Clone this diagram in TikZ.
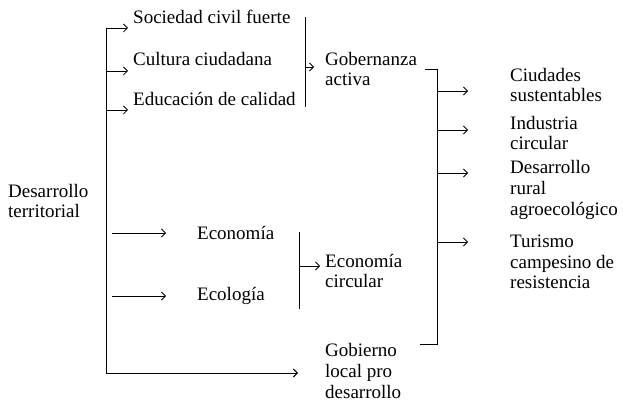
\documentclass[tikz,border=0pt]{standalone}
\usepackage{fontspec}
\setmainfont{Liberation Serif}
\usetikzlibrary{positioning}
\usetikzlibrary{arrows.meta}

\begin{document}
\begin{tikzpicture}[x=1pt,y=-1pt,
        txt/.style={anchor=west,inner sep=0pt,align=left,font=\fontsize{19}{20.8}\selectfont},
        arr/.style={-{Straight Barb[length=4pt,width=8pt]},line width=0.8pt},
        bar/.style={line width=0.9pt}]
        \useasboundingbox (0,0) rectangle (623,403);
        % left column
        \node[txt] (dt) at (8,201) {Desarrollo\\territorial};
        \node[txt] (soc) at (133,17) {Sociedad civil fuerte};
        \node[txt] (cul) at (133,59) {Cultura ciudadana};
        \node[txt] (edu) at (133,99) {Educación de calidad};
        \node[txt] (eco) at (197,233) {Economía};
        \node[txt] (ecl) at (197,296) {Ecología};
        % middle column
        \node[txt] (gobz) at (325,69) {Gobernanza\\activa};
        \node[txt] (ecoc) at (325,271) {Economía\\circular};
        \node[txt] (gobl) at (325,371) {Gobierno\\local pro\\desarrollo};
        % right column
        \node[txt] (ciu) at (510,85) {Ciudades\\sustentables};
        \node[txt] (ind) at (510,133) {Industria\\circular};
        \node[txt] (des) at (510,190) {Desarrollo\\rural\\agroecológico};
        \node[txt] (tur) at (510,262) {Turismo\\campesino de\\resistencia};

        % trunk
        \coordinate (ttop) at (106,28);
        \draw[arr,bar,shorten >=27pt] (ttop) |- ([yshift=-2pt]gobl.west);
        \foreach \n/\y in {soc/28, cul/71, edu/110}
        {
            \draw[arr,shorten >=5pt] (106,\y) -- (\n.west |- 0,\y);
        }
        \foreach \n in {eco, ecl}
        {
            \draw[arr,shorten >=31pt] ([xshift=-85pt]\n.west) -- (\n.west);
        }

        % brackets
        \coordinate (b1) at (305,17);
        \coordinate (b2) at (305,107);
        \draw[bar] (b1) -- (b2);
        \draw[arr,shorten >=11pt] (305,67) -- (gobz.west |- 0,67);
        \coordinate (c1) at (299,232);
        \coordinate (c2) at (299,309);
        \draw[bar] (c1) -- (c2);
        \draw[arr,shorten >=5pt] (299,266) -- (ecoc.west |- 0,266);

        \coordinate (rx) at (437,0);
        \coordinate (rb) at (420,344);
        \draw[bar] ([xshift=8pt]gobz.east) -- (gobz.east -| rx) -- (rx |- rb) -- (rb);
        \foreach \n/\y in {ciu/91, ind/130, des/173, tur/242}
        {
            \draw[arr,shorten >=42pt] (437,\y) -- (\n.west |- 0,\y);
        }
    \end{tikzpicture}
\end{document}
